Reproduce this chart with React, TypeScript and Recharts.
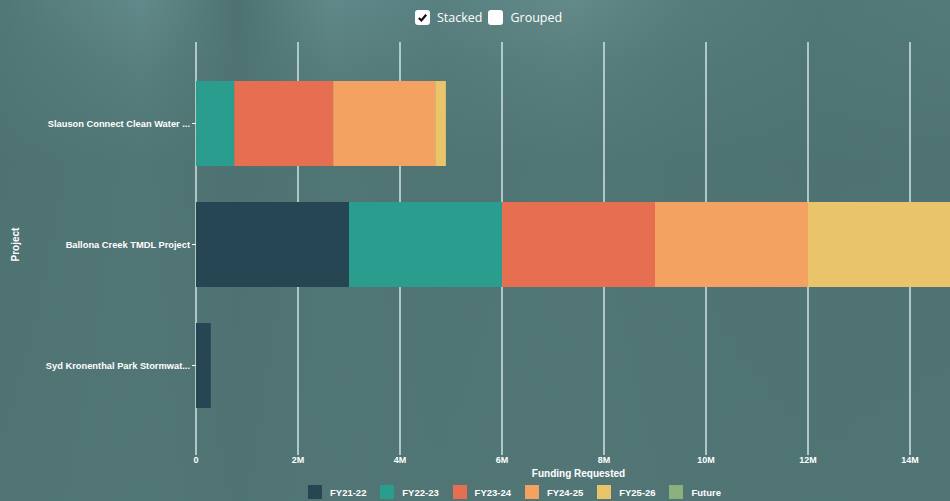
import { Bar, BarChart, CartesianGrid, XAxis, YAxis } from 'recharts';

const projects = [
  'Slauson Connect Clean Water ...',
  'Ballona Creek TMDL Project',
  'Syd Kronenthal Park Stormwat...',
];

const fy2122 = [0, 3000000, 290000];
const fy2223 = [750000, 3000000, 0];
const fy2324 = [1940000, 3000000, 0];
const fy2425 = [2000000, 3000000, 0];
const fy2526 = [210000, 3000000, 0];
const future = [0, 0, 0];

const xTicks = [0, 2000000, 4000000, 6000000, 8000000, 10000000, 12000000, 14000000];

const seriesList = [
  { key: 'FY21-22', values: fy2122, color: '#264653' },
  { key: 'FY22-23', values: fy2223, color: '#2a9d8f' },
  { key: 'FY23-24', values: fy2324, color: '#e76f51' },
  { key: 'FY24-25', values: fy2425, color: '#f4a261' },
  { key: 'FY25-26', values: fy2526, color: '#e9c46a' },
  { key: 'Future', values: future, color: '#8ab17d' },
];

const data = projects.map((name, i) => {
  const row: Record<string, string | number> = { project: name };
  seriesList.forEach((s) => {
    row[s.key] = s.values[i];
  });
  return row;
});

const FONT = '"Liberation Sans", Arial, sans-serif';

function formatMillions(v: number) {
  return v === 0 ? '0' : `${v / 1000000}M`;
}

function ProjectTick(props: any) {
  const { x, y, payload } = props;
  return (
    <text
      x={x}
      y={y}
      dy={3}
      textAnchor="end"
      fill="#ffffff"
      fontSize={9.3}
      fontWeight={700}
      fontFamily={FONT}
    >
      {payload.value}
    </text>
  );
}

function ProjectLabel(props: any) {
  const vb = props.viewBox || {};
  const cy = (vb.y || 0) + (vb.height || 0) / 2;
  return (
    <text
      x={15}
      y={cy}
      transform={`rotate(-90 15 ${cy})`}
      textAnchor="middle"
      dominantBaseline="central"
      fill="#ffffff"
      fontSize={10}
      fontWeight={700}
      fontFamily={FONT}
    >
      Project
    </text>
  );
}

function Checkbox(props: Readonly<{ checked: boolean; label: string }>) {
  return (
    <span style={{ display: 'inline-flex', alignItems: 'center', marginRight: 6 }}>
      <span
        style={{
          width: 15,
          height: 15,
          borderRadius: 3,
          background: '#ffffff',
          display: 'inline-flex',
          alignItems: 'center',
          justifyContent: 'center',
        }}
      >
        {props.checked && (
          <svg width="11" height="11" viewBox="0 0 12 12">
            <path d="M2 6.5 L4.8 9.2 L10 3" stroke="#111" strokeWidth="2.4" fill="none" />
          </svg>
        )}
      </span>
      <span style={{ marginLeft: 7, color: '#ffffff', fontSize: 12.5 }}>{props.label}</span>
    </span>
  );
}

function LegendRow() {
  return (
    <div style={{ position: 'absolute', top: 485, left: 308, display: 'flex', fontFamily: FONT }}>
      {seriesList.map((s) => (
        <div key={s.key} style={{ display: 'flex', alignItems: 'center', width: 72.3 }}>
          <span style={{ width: 14, height: 14, background: s.color, display: 'inline-block' }} />
          <span style={{ marginLeft: 8, color: '#ffffff', fontSize: 9.5, fontWeight: 700 }}>{s.key}</span>
        </div>
      ))}
    </div>
  );
}

export default function App() {
  return (
    <div
      style={{
        position: 'fixed',
        left: 0,
        top: 0,
        width: 950,
        height: 501,
        overflow: 'hidden',
        background:
          'linear-gradient(180deg, rgba(80,116,116,0.2) 0%, rgba(80,116,116,0.6) 12%, rgba(78,114,114,0.88) 32%, rgba(80,116,116,0.92) 100%), linear-gradient(90deg, #527777 0%, #678f8f 15%, #4d7171 25%, #668e8e 35%, #5b8383 46%, #688f8f 60%, #587f7f 72%, #517777 86%, #567b7b 100%)',
      }}
    >
      <div
        style={{
          position: 'absolute',
          top: 9,
          left: 415,
          display: 'flex',
          fontFamily: '"Open Sans", sans-serif',
        }}
      >
        <Checkbox checked label="Stacked" />
        <Checkbox checked={false} label="Grouped" />
      </div>
      <BarChart
        width={980}
        height={501}
        data={data}
        layout="vertical"
        margin={{ top: 42, right: 19, bottom: 24, left: 0 }}
        style={{ position: 'absolute', left: 0, top: 0 }}
      >
        <CartesianGrid horizontal={false} stroke="#cfe3e3" strokeWidth={1.5} />
        <XAxis
          type="number"
          domain={[0, 15000000]}
          ticks={xTicks}
          tickFormatter={formatMillions}
          axisLine={false}
          tickLine={{ stroke: '#cfe3e3', strokeWidth: 1.5 }}
          tickSize={8}
          tick={{ fill: '#ffffff', fontSize: 9, fontWeight: 700, fontFamily: FONT }}
          height={30}
          label={{
            value: 'Funding Requested',
            position: 'insideBottom',
            offset: 0,
            fill: '#ffffff',
            fontSize: 10,
            fontWeight: 700,
            fontFamily: FONT,
          }}
        />
        <YAxis
          type="category"
          dataKey="project"
          width={196}
          padding={{ top: 21, bottom: 21 }}
          axisLine={false}
          tickLine={{ stroke: '#ffffff' }}
          tickSize={4}
          tick={<ProjectTick />}
          label={<ProjectLabel />}
        />
        {seriesList.map((s) => (
          <Bar
            key={s.key}
            dataKey={s.key}
            stackId="a"
            fill={s.color}
            barSize={85}
            isAnimationActive={false}
          />
        ))}
      </BarChart>
      <LegendRow />
    </div>
  );
}
